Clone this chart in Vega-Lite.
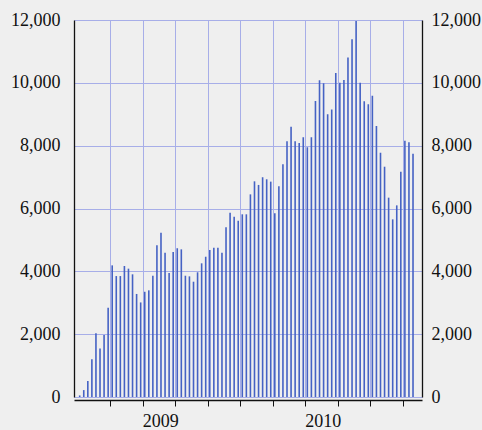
{
  "$schema": "https://vega.github.io/schema/vega-lite/v6.json",
  "width": 348,
  "height": 377,
  "autosize": {"type": "none"},
  "padding": {"left": 74, "top": 20, "right": 60, "bottom": 33},
  "background": "#efefef",
  "config": {
    "view": {"stroke": null},
    "axis": {
      "labelFont": "Liberation Serif",
      "labelFontSize": 18,
      "labelColor": "#111111",
      "domain": true,
      "domainColor": "#111111",
      "domainWidth": 1.3,
      "tickColor": "#111111",
      "gridColor": "#a7aee8",
      "gridWidth": 1,
      "gridOpacity": 1
    }
  },
  "data": {
    "values": [
      {"i": 1, "v": 50}, {"i": 2, "v": 220}, {"i": 3, "v": 510}, {"i": 4, "v": 1200},
      {"i": 5, "v": 2030}, {"i": 6, "v": 1540}, {"i": 7, "v": 1970}, {"i": 8, "v": 2840},
      {"i": 9, "v": 4190}, {"i": 10, "v": 3850}, {"i": 11, "v": 3850}, {"i": 12, "v": 4170},
      {"i": 13, "v": 4085}, {"i": 14, "v": 3905}, {"i": 15, "v": 3280}, {"i": 16, "v": 3010},
      {"i": 17, "v": 3350}, {"i": 18, "v": 3395}, {"i": 19, "v": 3860}, {"i": 20, "v": 4830},
      {"i": 21, "v": 5230}, {"i": 22, "v": 4595}, {"i": 23, "v": 3950}, {"i": 24, "v": 4615},
      {"i": 25, "v": 4735}, {"i": 26, "v": 4700}, {"i": 27, "v": 3860}, {"i": 28, "v": 3840},
      {"i": 29, "v": 3670}, {"i": 30, "v": 3970}, {"i": 31, "v": 4255}, {"i": 32, "v": 4465},
      {"i": 33, "v": 4680}, {"i": 34, "v": 4750}, {"i": 35, "v": 4750}, {"i": 36, "v": 4595},
      {"i": 37, "v": 5400}, {"i": 38, "v": 5865}, {"i": 39, "v": 5740}, {"i": 40, "v": 5610},
      {"i": 41, "v": 5815}, {"i": 42, "v": 5815}, {"i": 43, "v": 6450}, {"i": 44, "v": 6865},
      {"i": 45, "v": 6750}, {"i": 46, "v": 6995}, {"i": 47, "v": 6930}, {"i": 48, "v": 6855},
      {"i": 49, "v": 5850}, {"i": 50, "v": 6705}, {"i": 51, "v": 7405}, {"i": 52, "v": 8140},
      {"i": 53, "v": 8605}, {"i": 54, "v": 8140}, {"i": 55, "v": 8085}, {"i": 56, "v": 8265},
      {"i": 57, "v": 7950}, {"i": 58, "v": 8265}, {"i": 59, "v": 9420}, {"i": 60, "v": 10080},
      {"i": 61, "v": 9985}, {"i": 62, "v": 9000}, {"i": 63, "v": 9155}, {"i": 64, "v": 10310},
      {"i": 65, "v": 10005}, {"i": 66, "v": 10090}, {"i": 67, "v": 10810}, {"i": 68, "v": 11385},
      {"i": 69, "v": 11970}, {"i": 70, "v": 10005}, {"i": 71, "v": 9410}, {"i": 72, "v": 9315},
      {"i": 73, "v": 9590}, {"i": 74, "v": 8625}, {"i": 75, "v": 7775}, {"i": 76, "v": 7330},
      {"i": 77, "v": 6345}, {"i": 78, "v": 5655}, {"i": 79, "v": 6100}, {"i": 80, "v": 7170},
      {"i": 81, "v": 8160}, {"i": 82, "v": 8105}, {"i": 83, "v": 7745}
    ]
  },
  "layer": [
    {
      "mark": {"type": "bar", "width": 1.6, "color": "#4562c4"},
      "encoding": {
        "x": {
          "field": "i",
          "type": "quantitative",
          "scale": {"domain": [0.83, 83.98], "nice": false, "zero": false},
          "axis": {
            "title": null,
            "values": [8.5, 16.5, 24.5, 32.5, 40.5, 48.5, 56.5, 64.5, 72.5, 80.5],
            "tickCount": 30,
            "offset": 3,
            "tickSize": 6,
            "labelExpr": "datum.value == 16.5 ? '2009' : (datum.value == 56.5 ? '2010' : '')",
            "labelOffset": 17.5,
            "labelPadding": 6,
            "labelBaseline": "top",
            "labelFlush": false,
            "labelOverlap": false,
            "grid": true
          }
        },
        "y": {
          "field": "v",
          "type": "quantitative",
          "scale": {"domain": [0, 12000], "nice": false},
          "axis": {
            "title": null,
            "orient": "left",
            "values": [0, 2000, 4000, 6000, 8000, 10000, 12000],
            "tickCount": 30,
            "format": ",d",
            "ticks": false,
            "domain": true,
            "labelPadding": 14,
            "labelFlush": false,
            "labelOverlap": false,
            "grid": true
          }
        }
      }
    },
    {
      "mark": {"type": "bar", "width": 1.6, "color": "#4562c4", "opacity": 0},
      "encoding": {
        "x": {"field": "i", "type": "quantitative"},
        "y": {
          "field": "v",
          "type": "quantitative",
          "scale": {"domain": [0, 12000], "nice": false},
          "axis": {
            "title": null,
            "orient": "right",
            "values": [0, 2000, 4000, 6000, 8000, 10000, 12000],
            "tickCount": 30,
            "format": ",d",
            "ticks": false,
            "domain": true,
            "labelPadding": 9,
            "labelFlush": false,
            "labelOverlap": false,
            "grid": false
          }
        }
      }
    }
  ],
  "resolve": {"scale": {"y": "independent"}}
}
